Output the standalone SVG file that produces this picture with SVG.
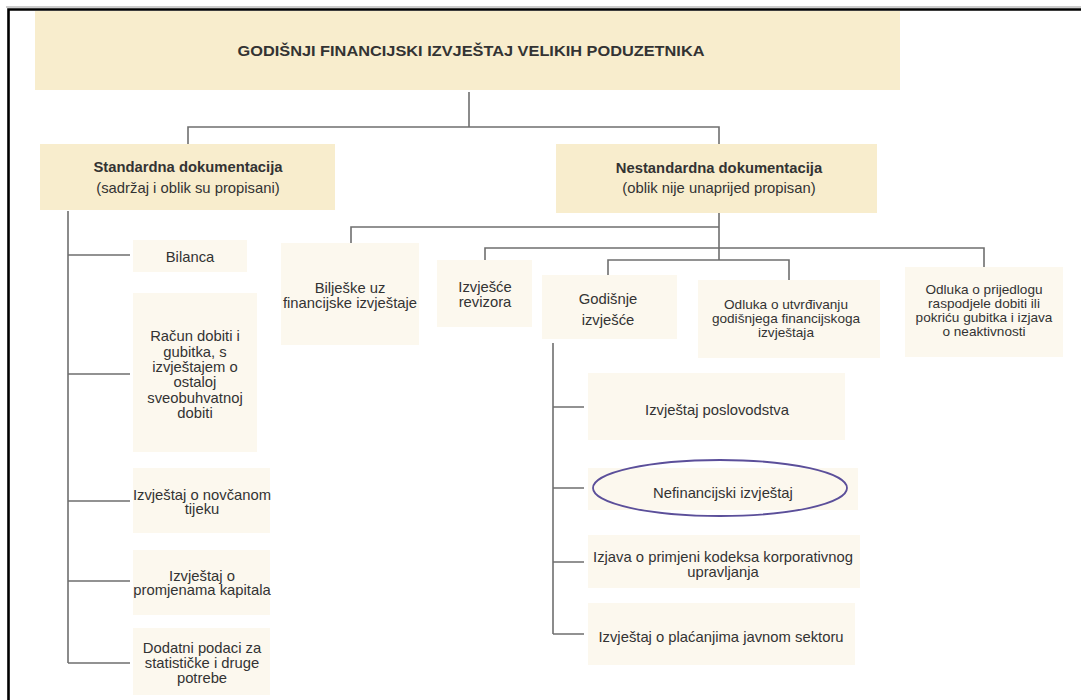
<svg xmlns="http://www.w3.org/2000/svg" width="1081" height="700" viewBox="0 0 1081 700">
<style>
.hdr{fill:#f8edcd}
.box{fill:#fcf8ee}
text{font-family:"Liberation Sans",Arial,sans-serif;fill:#333;text-anchor:middle;font-size:14.8px}
.b{font-weight:bold}
.s{font-size:13.6px}
.conn path{fill:none;stroke:#6f6f6f;stroke-width:1.6}
</style>
<rect x="0" y="0" width="1081" height="700" fill="#fff"/>
<line x1="6" y1="7" x2="1081" y2="7" stroke="#9a9a9a" stroke-width="1"/>
<path d="M8.5,701 V9.5 H1082" fill="none" stroke="#000" stroke-width="2.6"/>

<g class="conn" id="connectors">
<path d="M469,92 V127 M188,145 V127 H719 V145"/>
<path d="M68,211 V663 M68,255 H130 M68,374 H130 M68,501 H130 M68,581 H130 M68,663 H130"/>
<path d="M719,213 V260 M351,243 V227 H719 M485,260 V248 H984 V267 M608,275 V260 H789 V280"/>
<path d="M553,343 V634 M553,407 H584 M553,488 H584 M553,562 H584 M553,634 H584"/>
</g>

<g id="title"><rect class="hdr" x="35" y="11" width="865" height="79"/>
<text class="b" x="471" y="56" font-size="14" textLength="467" lengthAdjust="spacingAndGlyphs">GODIŠNJI FINANCIJSKI IZVJEŠTAJ VELIKIH PODUZETNIKA</text></g>

<g id="standardna"><rect class="hdr" x="40" y="144" width="295" height="66"/>
<text class="b" x="188" y="172">Standardna dokumentacija</text>
<text x="188" y="193">(sadržaj i oblik su propisani)</text></g>

<g id="nestandardna"><rect class="hdr" x="556" y="144" width="321" height="69"/>
<text class="b" x="719" y="173">Nestandardna dokumentacija</text>
<text x="719" y="193">(oblik nije unaprijed propisan)</text></g>

<g id="bilanca"><rect class="box" x="133" y="240" width="114" height="32"/>
<text x="190" y="262">Bilanca</text></g>

<g id="racun"><rect class="box" x="133" y="293" width="124" height="159"/>
<text x="195" y="341">Račun dobiti i</text>
<text x="195" y="356.5">gubitka, s</text>
<text x="195" y="372">izvještajem o</text>
<text x="195" y="387">ostaloj</text>
<text x="195" y="402.5">sveobuhvatnoj</text>
<text x="195" y="418">dobiti</text></g>

<g id="novcani"><rect class="box" x="133" y="468" width="137" height="65"/>
<text x="202" y="500">Izvještaj o novčanom</text>
<text x="202" y="514">tijeku</text></g>

<g id="kapital"><rect class="box" x="133" y="550" width="137" height="65"/>
<text x="202" y="581">Izvještaj o</text>
<text x="202" y="595">promjenama kapitala</text></g>

<g id="dodatni"><rect class="box" x="133" y="628" width="137" height="67"/>
<text x="202" y="653">Dodatni podaci za</text>
<text x="202" y="668">statističke i druge</text>
<text x="202" y="683">potrebe</text></g>

<g id="biljeske"><rect class="box" x="281" y="243" width="138" height="102"/>
<text x="350" y="293">Bilješke uz</text>
<text x="350" y="308">financijske izvještaje</text></g>

<g id="revizor"><rect class="box" x="437" y="260" width="95" height="67"/>
<text x="485" y="292">Izvješće</text>
<text x="485" y="307">revizora</text></g>

<g id="godisnje"><rect class="box" x="542" y="275" width="135" height="64"/>
<text x="608" y="304">Godišnje</text>
<text x="608" y="325">izvješće</text></g>

<g id="odluka-utvrdivanje"><rect class="box" x="698" y="280" width="182" height="78"/>
<text class="s" x="786" y="309">Odluka o utvrđivanju</text>
<text class="s" x="786" y="323">godišnjega financijskoga</text>
<text class="s" x="786" y="337">izvještaja</text></g>

<g id="odluka-dobit"><rect class="box" x="905" y="267" width="158" height="90"/>
<text class="s" x="984" y="294">Odluka o prijedlogu</text>
<text class="s" x="984" y="308">raspodjele dobiti ili</text>
<text class="s" x="984" y="322">pokriću gubitka i izjava</text>
<text class="s" x="984" y="336">o neaktivnosti</text></g>

<g id="poslovodstvo"><rect class="box" x="588" y="373" width="257" height="67"/>
<text x="717" y="415">Izvještaj poslovodstva</text></g>

<g id="nefinancijski"><rect class="box" x="588" y="468" width="270" height="42"/>
<ellipse cx="720" cy="488" rx="127" ry="28" fill="none" stroke="#5b4f9a" stroke-width="1.8"/>
<text x="723" y="498">Nefinancijski izvještaj</text></g>

<g id="izjava"><rect class="box" x="588" y="535" width="272" height="53"/>
<text x="723" y="562">Izjava o primjeni kodeksa korporativnog</text>
<text x="723" y="577">upravljanja</text></g>

<g id="placanja"><rect class="box" x="588" y="603" width="267" height="62"/>
<text x="721" y="642">Izvještaj o plaćanjima javnom sektoru</text></g>
</svg>
